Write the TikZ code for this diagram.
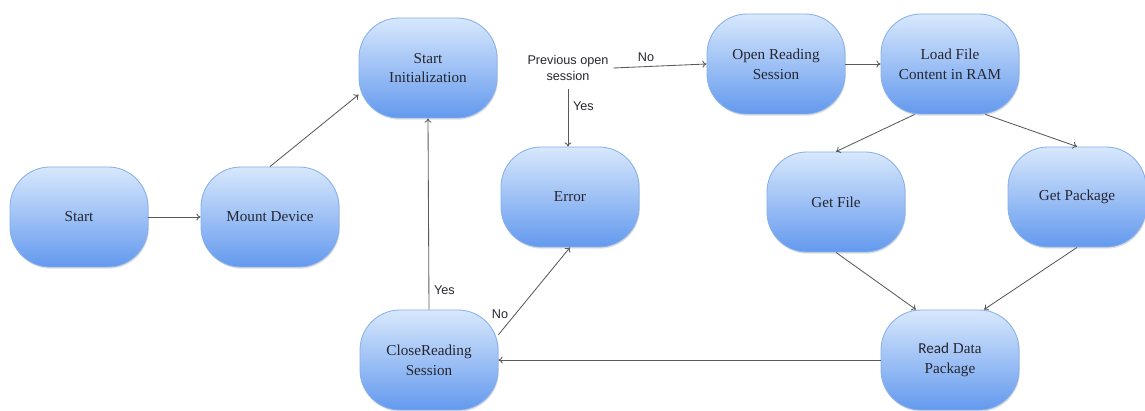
\documentclass[tikz,border=0pt]{standalone}
\usepackage{fontspec}
\setmainfont{Liberation Serif}
\setsansfont{Liberation Sans}
\newfontfamily\readfont{Carlito}
\usetikzlibrary{arrows.meta,shadows}
\definecolor{boxtop}{HTML}{D8E8FC}
\definecolor{boxbot}{HTML}{6399EE}
\definecolor{boxline}{HTML}{86B0EC}
\definecolor{ink}{HTML}{262630}
\definecolor{wirecol}{HTML}{5A5A5A}
\tikzset{
	state/.style={rectangle, rounded corners=1cm, minimum width=3.45cm, minimum height=2.5cm,
		top color=boxtop, bottom color=boxbot, draw=boxline, line width=0.6pt, align=center,
		text=ink, font=\fontsize{10.8}{14}\selectfont,
		drop shadow={opacity=0.25, shadow xshift=0.6pt, shadow yshift=-1.2pt}},
	wire/.style={draw=wirecol, line width=0.6pt, -{To[length=3pt,width=5pt]}},
	tag/.style={font=\sffamily\fontsize{9}{10.7}\selectfont, text=ink, align=center}
}
\begin{document}
\begin{tikzpicture}
		\useasboundingbox (0,0) rectangle (28.625,10.275);
		\node[state] (start) at (1.975,4.85) {Start};
		\node[state] (mount) at (6.75,4.85) {Mount Device};
		\node[state] (init) at (10.7,8.575) {Start\\Initialization};
		\node[state] (error) at (14.25,5.35) {Error};
		\node[state] (close) at (10.725,1.275) {CloseReading\\Session};
		\node[state] (open) at (19.4,8.675) {Open Reading\\Session};
		\node[state] (load) at (23.75,8.675) {Load File\\Content in RAM};
		\node[state] (getfile) at (20.9,5.225) {Get File};
		\node[state] (getpkg) at (26.925,5.35) {Get Package};
		\node[state] (read) at (23.75,1.275) {{\readfont Read} Data\\Package};
		\node[tag] (prev) at (14.2,8.575) {Previous open\\session};
		% main flow
		\draw[wire] (start) -- (mount);
		\draw[wire] (mount.north) -- (init.201);
		\draw[wire] (prev.east) -- node[tag, above, pos=0.35]{No} (open.west);
		\draw[wire] ([yshift=-3pt]prev.south) -- node[tag, right, pos=0.3]{Yes} (prev.south |- error.north);
		\draw[wire] (open) -- (load);
		\draw[wire] (load.235) -- (getfile.north);
		\draw[wire] (load.-55) -- (getpkg.north);
		\draw[wire] (getfile.south) -- (read.124);
		\draw[wire] (getpkg.south) -- (read.56);
		\draw[wire] (read.west) -- (close.east);
		% back from closing
		\draw[wire] (close.north) -- node[tag, right, pos=0.1]{Yes} (init.south);
		\draw[wire] (close.20) -- node[tag, above left, pos=0.16, inner sep=1pt]{No} (error.south);
		\end{tikzpicture}
\end{document}
